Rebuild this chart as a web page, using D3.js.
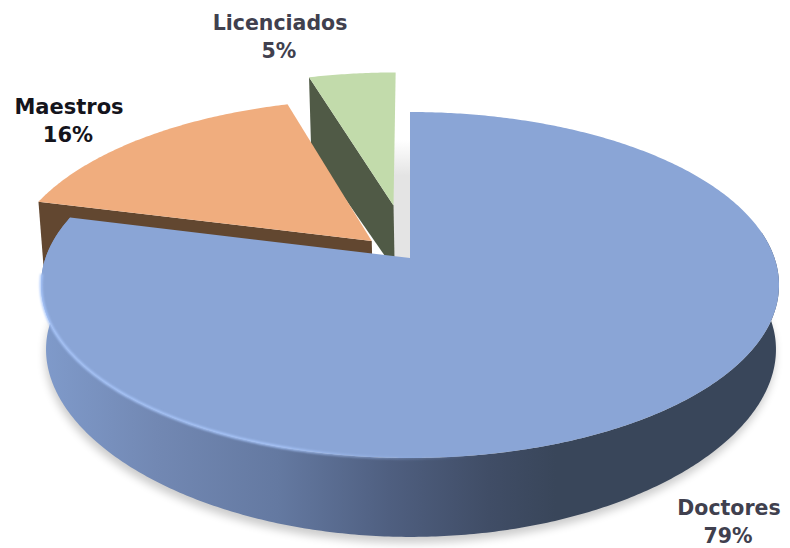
<!DOCTYPE html>
<html><head><meta charset="utf-8">
<script src="https://cdn.jsdelivr.net/npm/d3@7/dist/d3.min.js"></script>
<style>html,body{margin:0;padding:0;background:#fff}svg{display:block}</style>
</head><body><div id="c"></div>
<script>
const categories = ["Doctores", "Maestros", "Licenciados"];
const shares = [79, 16.4, 4.6];
const explode = [0, 0.148, 0.33];
const topColors = ["#8aa5d6", "#f0ad7e", "#c2dbab"];
const wallColors = ["#39465a", "#624730", "#505a46"];

const W = 790, H = 548;
const svg = d3.select("#c").append("svg").attr("width", W).attr("height", H);
const defs = svg.append("defs");

const planes = {
  top: {cx: 410, cy: 258, rx: 364.5, ry: 168.8, kx: 0.156, ky: 0.156},
  bottom: {cx: 411, cy: 322, rx: 360.5, ry: 170, kx: 0.156, ky: 0.209}
};
function project(plane, angle, r, slice) {
  const p = planes[plane];
  const mid = (slice.startAngle + slice.endAngle) / 2;
  const e = slice.explode;
  const u = r * Math.sin(angle) + e * Math.sin(mid);
  const v = -r * Math.cos(angle) - e * Math.cos(mid);
  return [p.cx + p.rx * u / (1 - p.kx * v), p.cy + p.ry * v / (1 - p.ky * v)];
}
function arcPts(plane, slice, a0, a1) {
  const n = Math.ceil(Math.abs(a1 - a0) / 0.01);
  return d3.range(n + 1).map(i => project(plane, a0 + (a1 - a0) * i / n, 1, slice));
}
const line = d3.line();

const slices = d3.pie().sort(null).value(d => d).startAngle(0).endAngle(2 * Math.PI)(shares)
  .map((s, i) => Object.assign(s, {explode: explode[i], name: categories[i], i}));
const [doc, mae, lic] = slices;

// gradients and filters
const wallGrad = defs.append("linearGradient").attr("id", "wallGrad")
  .attr("gradientUnits", "userSpaceOnUse").attr("x1", 45).attr("x2", 600).attr("y1", 0).attr("y2", 0);
[[0, "#7f9aca"], [0.2, "#7288b3"], [0.42, "#6479a1"], [0.62, "#4f5f80"], [0.8, "#404d66"], [0.92, "#39465a"], [1, "#39465a"]]
  .forEach(([o, c]) => wallGrad.append("stop").attr("offset", o).attr("stop-color", c));
const rimGrad = defs.append("linearGradient").attr("id", "rimGrad")
  .attr("gradientUnits", "userSpaceOnUse").attr("x1", 40).attr("x2", 480).attr("y1", 0).attr("y2", 0);
[[0, "#a8c6fb", 1], [0.55, "#a8c6fb", 1], [1, "#8aa5d6", 0]]
  .forEach(([o, c, a]) => rimGrad.append("stop").attr("offset", o).attr("stop-color", c).attr("stop-opacity", a));
const backGrad = defs.append("linearGradient").attr("id", "backGrad")
  .attr("x1", 0).attr("x2", 0).attr("y1", 0).attr("y2", 1);
[[0, "#e4e4e4", 0], [0.3, "#e4e4e4", 1], [1, "#e4e4e4", 1]]
  .forEach(([o, c, a]) => backGrad.append("stop").attr("offset", o).attr("stop-color", c).attr("stop-opacity", a));
const blur = defs.append("filter").attr("id", "blur").attr("x", "-10%").attr("y", "-10%").attr("width", "120%").attr("height", "120%");
blur.append("feGaussianBlur").attr("stdDeviation", 4);
const soft = defs.append("filter").attr("id", "soft").attr("x", "-5%").attr("y", "-5%").attr("width", "110%").attr("height", "110%");
soft.append("feGaussianBlur").attr("stdDeviation", 1);

// ground shadow of the main slice
svg.append("path")
  .attr("d", line(arcPts("bottom", doc, 0, 2 * Math.PI)) + "Z")
  .attr("transform", "translate(-1,6)")
  .attr("fill", "#000").attr("opacity", 0.2).attr("filter", "url(#blur)");
// cover shadow on the upper part behind the wedges
svg.append("rect").attr("x", 0).attr("y", 60).attr("width", W).attr("height", 205).attr("fill", "#fff");

// inner back face seen between the green wedge and the main slice
svg.append("rect").attr("x", 392).attr("y", 140).attr("width", 19).attr("height", 119).attr("fill", "url(#backGrad)");

// exploded wedges: cut wall, then top face
[lic, mae].forEach(s => {
  const cut = s.startAngle;
  const pts = [
    project("top", cut, 1, s), project("top", cut, 0, s),
    project("bottom", cut, 0, s), project("bottom", cut, 1, s)
  ];
  svg.append("path").attr("d", line(pts) + "Z").attr("fill", wallColors[s.i]);
  svg.append("path")
    .attr("d", line([project("top", s.startAngle, 0, s), ...arcPts("top", s, s.startAngle, s.endAngle)]) + "Z")
    .attr("fill", topColors[s.i]);
});

// main slice: side wall, top face, highlighted rim
const sideTop = arcPts("top", doc, Math.PI * 0.45, doc.endAngle);
const sideBottom = arcPts("bottom", doc, Math.PI * 0.45, doc.endAngle).reverse();
svg.append("path").attr("d", line([...sideTop, ...sideBottom]) + "Z").attr("fill", "url(#wallGrad)");
svg.append("path")
  .attr("d", line([project("top", doc.startAngle, 0, doc), ...arcPts("top", doc, doc.startAngle, doc.endAngle)]) + "Z")
  .attr("fill", topColors[0]);
svg.append("path")
  .attr("d", line(arcPts("top", doc, Math.PI * 0.95, Math.PI * 1.47)))
  .attr("fill", "none").attr("stroke", "url(#rimGrad)").attr("stroke-width", 2.5).attr("filter", "url(#soft)");

// labels
const pct = d3.format(".0f");
const labelAt = {
  Doctores: {x: 729, y: 515, fill: "#40404e", size: 20.5},
  Maestros: {x: 69, y: 114, fill: "#14141c", size: 21},
  Licenciados: {x: 280, y: 30, fill: "#40404e", size: 20.5}
};
slices.forEach(s => {
  const l = labelAt[s.name];
  const t = svg.append("text").attr("text-anchor", "middle")
    .attr("font-family", "'DejaVu Sans', Verdana, sans-serif").attr("font-size", l.size).attr("font-weight", 700)
    .attr("fill", l.fill);
  t.append("tspan").attr("x", l.x).attr("y", l.y).text(s.name);
  t.append("tspan").attr("x", l.x - 1).attr("y", l.y + 28).text(pct(s.data) + "%");
});
</script></body></html>
